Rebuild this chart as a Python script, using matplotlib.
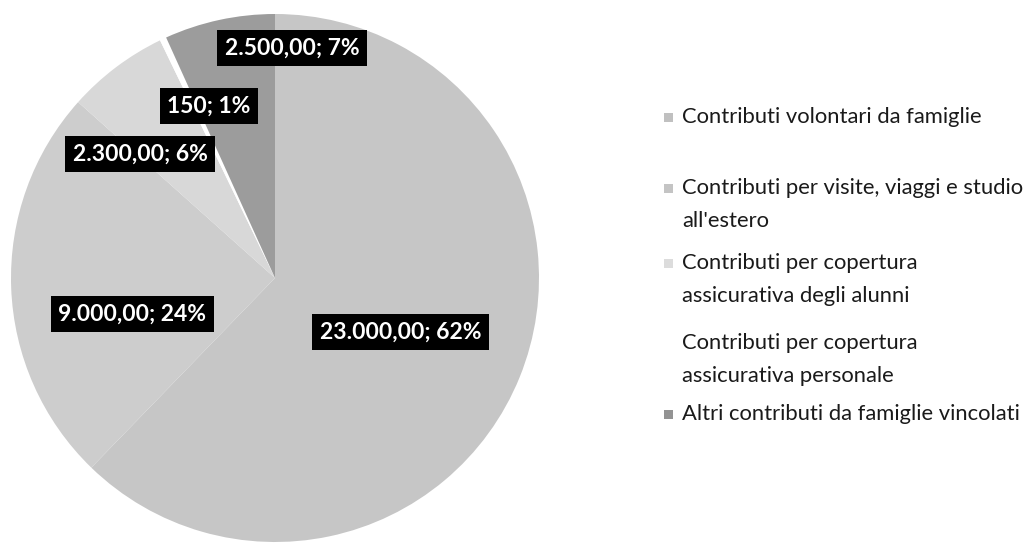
import matplotlib
matplotlib.use("Agg")
import matplotlib.pyplot as plt
from matplotlib.patches import Rectangle

# ---- data ----
categories = [
    "Contributi volontari da famiglie",
    "Contributi per visite, viaggi e studio\nall'estero",
    "Contributi per copertura\nassicurativa degli alunni",
    "Contributi per copertura\nassicurativa personale",
    "Altri contributi da famiglie vincolati",
]
values = [23000, 9000, 2300, 150, 2500]
value_labels = ["23.000,00", "9.000,00", "2.300,00", "150", "2.500,00"]
pct_labels = ["62%", "24%", "6%", "1%", "7%"]

# ---- style ----
colors = ["#c6c6c6", "#cdcdcd", "#d8d8d8", "#ffffff", "#9c9c9c"]
marker_colors = ["#c0c0c0", "#c4c4c4", "#dcdcdc", "#ffffff", "#939393"]
label_xy = [(0.475, -0.205), (-0.54, -0.137), (-0.51, 0.47), (-0.25, 0.65), (0.065, 0.87)]
legend_first_line_px = [117, 188, 263, 343, 414]
legend_line_gap_px = 33

W, H = 1030, 543
fig = plt.figure(figsize=(W / 100, H / 100), dpi=100)
fig.patch.set_facecolor("white")

cx, cy, R = 275, 278, 264
ax = fig.add_axes([(cx - R) / W, (H - cy - R) / H, 2 * R / W, 2 * R / H])
ax.pie(values, colors=colors, startangle=90, counterclock=False, radius=1,
       wedgeprops=dict(linewidth=0))
ax.set_xlim(-1, 1)
ax.set_ylim(-1, 1)
ax.set_aspect("equal")
ax.axis("off")

for (x, y), v, p in zip(label_xy, value_labels, pct_labels):
    ax.text(x, y, f"{v}; {p}", ha="center", va="center", color="white",
            fontsize=16.5, fontweight="bold", family="Lato",
            bbox=dict(boxstyle="square,pad=0.33", fc="black", ec="none"))

# ---- legend ----
mx, tx = 664, 682
for lab, y0, mc in zip(categories, legend_first_line_px, marker_colors):
    fig.patches.append(Rectangle((mx / W, 1 - (y0 + 5) / H), 9 / W, 9 / H,
                                 transform=fig.transFigure, fc=mc, ec="none"))
    for i, line in enumerate(lab.split("\n")):
        fig.text(tx / W, 1 - (y0 + i * legend_line_gap_px) / H, line,
                 ha="left", va="center", fontsize=15.8, family="Lato", color="#1a1a1a")

fig.savefig("out.png", dpi=100)
